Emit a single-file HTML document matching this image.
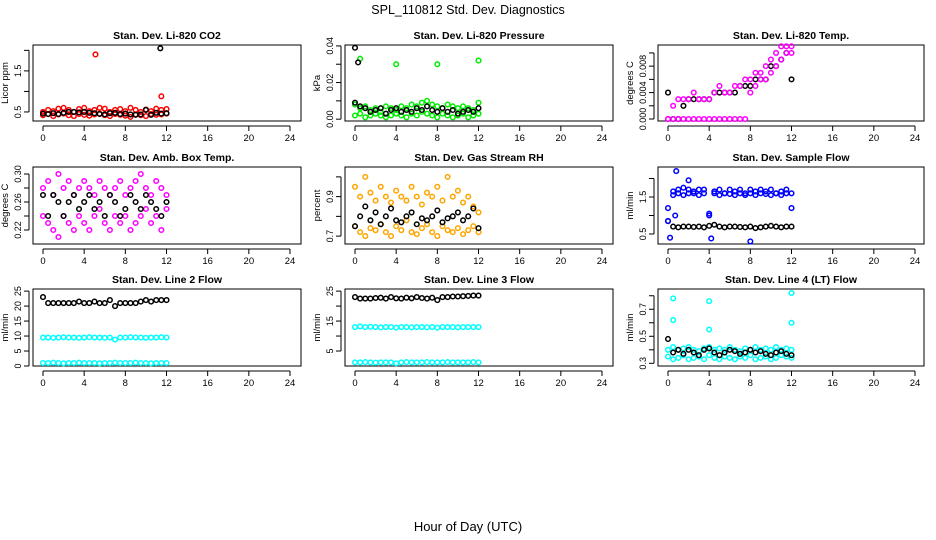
<!DOCTYPE html>
<html><head><meta charset="utf-8">
<style>
body{margin:0;background:#fff;}
svg{display:block;font-family:"Liberation Sans",Arial,sans-serif;}
</style></head>
<body>
<svg id="chart" width="936" height="540" viewBox="0 0 936 540">
<text x="468" y="14" text-anchor="middle" font-size="12.5">SPL_110812  Std. Dev. Diagnostics</text>
<text x="468" y="531" text-anchor="middle" font-size="13">Hour of Day (UTC)</text>
</svg>
<script>
const T = [0,0.5,1,1.5,2,2.5,3,3.5,4,4.5,5,5.5,6,6.5,7,7.5,8,8.5,9,9.5,10,10.5,11,11.5,12];
const xTicks = [0,4,8,12,16,20,24];

const co2Red1 = [0.5,0.55,0.52,0.58,0.6,0.55,0.5,0.57,0.6,0.52,0.55,0.6,0.58,0.5,0.55,0.57,0.52,0.6,0.55,0.5,0.56,0.52,0.58,0.55,0.57];
const co2Red2 = [0.42,0.45,0.4,0.44,0.46,0.42,0.4,0.45,0.43,0.41,0.44,0.46,0.42,0.4,0.45,0.43,0.41,0.38,0.44,0.42,0.4,0.45,0.43,0.44,0.46];
const co2RedOutT = [5.1,11.5];
const co2RedOutV = [1.9,0.88];
const co2Black = [0.46,0.45,0.47,0.45,0.48,0.5,0.5,0.49,0.5,0.48,0.47,0.45,0.44,0.47,0.48,0.45,0.46,0.44,0.43,0.44,0.55,0.43,0.48,0.46,0.47];
const co2BlackOutT = [11.4];
const co2BlackOutV = [2.05];

const presGreen1 = [0.008,0.006,0.007,0.005,0.006,0.004,0.007,0.006,0.005,0.007,0.006,0.008,0.007,0.009,0.01,0.008,0.007,0.006,0.008,0.007,0.006,0.007,0.006,0.005,0.009];
const presGreen2 = [0.002,0.003,0.001,0.002,0.003,0.002,0.001,0.002,0.003,0.002,0.001,0.003,0.002,0.004,0.003,0.002,0.001,0.003,0.002,0.001,0.002,0.003,0.001,0.002,0.003];
const presGreenOutT = [0.5,4,8,12];
const presGreenOutV = [0.033,0.03,0.03,0.032];
const presBlack = [0.009,0.007,0.006,0.004,0.005,0.006,0.003,0.005,0.006,0.004,0.005,0.004,0.006,0.005,0.007,0.005,0.004,0.006,0.004,0.005,0.003,0.004,0.005,0.004,0.006];
const presBlackOutT = [0,0.3];
const presBlackOutV = [0.039,0.031];

const tempMag1 = [0,0.002,0.003,0.003,0.003,0.004,0.003,0.003,0.003,0.004,0.005,0.004,0.004,0.005,0.005,0.006,0.006,0.007,0.007,0.008,0.009,0.01,0.011,0.011,0.011];
const tempMag2 = [0,0,0,0,0,0,0,0,0,0,0,0,0,0,0,0,0.004,0.005,0.006,0.006,0.007,0.008,0.009,0.01,0.01];
const tempBlack = [0.004,0,0,0.002,0.003,0.003,0.003,0.003,0.003,0.004,0.004,0.004,0.004,0.004,0.005,0.005,0.005,0.006,0.006,0.006,0.008,0.008,0.009,0.01,0.006];

const ambMag1 = [0.28,0.29,0.27,0.3,0.28,0.29,0.27,0.28,0.29,0.28,0.27,0.29,0.28,0.27,0.28,0.29,0.27,0.28,0.29,0.3,0.28,0.27,0.29,0.28,0.27];
const ambMag2 = [0.24,0.23,0.22,0.21,0.24,0.23,0.22,0.24,0.23,0.22,0.24,0.25,0.23,0.22,0.24,0.23,0.24,0.22,0.23,0.24,0.25,0.23,0.24,0.22,0.25];
const ambBlack = [0.27,0.24,0.27,0.26,0.24,0.26,0.27,0.25,0.26,0.27,0.25,0.26,0.24,0.27,0.26,0.24,0.25,0.27,0.26,0.25,0.27,0.26,0.25,0.24,0.26];

const rhOrange1 = [0.95,0.9,1.0,0.92,0.88,0.95,0.9,0.87,0.93,0.9,0.88,0.95,0.9,0.86,0.92,0.9,0.95,0.88,1.0,0.9,0.93,0.87,0.9,0.85,0.82];
const rhOrange2 = [0.75,0.72,0.7,0.74,0.73,0.76,0.72,0.7,0.75,0.73,0.78,0.72,0.71,0.74,0.76,0.72,0.7,0.75,0.73,0.72,0.74,0.71,0.73,0.75,0.72];
const rhBlack = [0.75,0.8,0.85,0.78,0.82,0.76,0.8,0.84,0.78,0.77,0.8,0.82,0.76,0.79,0.78,0.8,0.83,0.77,0.79,0.8,0.82,0.78,0.8,0.84,0.74];

const flowBlue1 = [0.85,1.65,1.7,1.75,1.7,1.65,1.7,1.7,1.0,1.65,1.7,1.6,1.7,1.65,1.7,1.6,1.7,1.65,1.7,1.65,1.7,1.6,1.65,1.7,1.2];
const flowBlue2 = [1.2,1.55,1.6,1.55,1.6,1.6,1.55,1.6,1.05,1.6,1.55,1.6,1.58,1.55,1.6,1.55,1.6,1.55,1.6,1.58,1.55,1.6,1.55,1.6,1.6];
const flowBlueOutT = [0.2,0.8,2,4.2,8,0.7];
const flowBlueOutV = [0.4,2.2,1.95,0.38,0.3,1.0];
const flowBlack = [0.85,0.7,0.68,0.7,0.7,0.69,0.7,0.68,0.72,0.75,0.7,0.68,0.7,0.7,0.69,0.68,0.7,0.66,0.68,0.7,0.72,0.7,0.68,0.7,0.7];

const l2Black = [23,21,21,21,21,21,21,21.5,21,21,21.5,21,21,22,20,21,21,21,21,21.5,22,21.5,22,22,22];
const l2Cyan1 = [9.5,9.5,9.4,9.5,9.6,9.5,9.5,9.4,9.5,9.6,9.5,9.5,9.4,9.5,8.8,9.5,9.5,9.6,9.5,9.5,9.4,9.5,9.5,9.6,9.5];
const l2Cyan2 = [1,1,1.1,1,0.9,1,1,1.1,1,1,1,0.9,1,1,1.1,1,1,1,1.1,1,1,0.9,1,1,1];

const l3Black = [23,22.5,22.5,22.5,22.7,22.8,22.5,23,22.6,22.5,22.8,22.6,23,22.7,22.5,22.8,22,23,23,23.2,23.2,23.3,23.4,23.5,23.5];
const l3Cyan1 = [13,13.2,13,13.1,13,12.9,13,13,12.8,13,13,12.9,13,13,12.9,13,12.8,13,13,13,12.9,13,13,13,13];
const l3Cyan2 = [1.2,1.2,1.3,1.2,1.1,1.2,1.2,1.2,0.9,1.2,1.3,1.2,1.2,1.2,1.3,1.2,1.2,1.2,1.3,1.2,1.2,1.2,1.2,1.3,1.2];

const l4Cyan1 = [0.4,0.42,0.4,0.41,0.42,0.4,0.39,0.41,0.42,0.4,0.41,0.4,0.42,0.4,0.39,0.41,0.4,0.42,0.4,0.41,0.4,0.42,0.4,0.41,0.4];
const l4Cyan2 = [0.35,0.33,0.34,0.36,0.33,0.34,0.35,0.33,0.36,0.34,0.33,0.35,0.34,0.33,0.35,0.34,0.36,0.33,0.34,0.35,0.33,0.34,0.36,0.35,0.34];
const l4CyanOutT = [0.5,0.5,4,4,12,12];
const l4CyanOutV = [0.78,0.62,0.76,0.55,0.82,0.6];
const l4Black = [0.48,0.38,0.4,0.37,0.4,0.38,0.36,0.4,0.41,0.38,0.36,0.38,0.4,0.39,0.37,0.38,0.4,0.38,0.39,0.37,0.36,0.38,0.39,0.37,0.36];

const RED='#ff0000',GRN='#00ee00',MAG='#ff00ff',ORG='#ffa500',BLU='#0000ff',CYN='#00ffff',BLK='#000000';

const panels = [
 {name:'co2',title:'Stan. Dev. Li-820 CO2',ylab:'Licor ppm',ylim:[0.28,2.13],ticks:[0.5,1.0,1.5,2.0],labels:['0.5','','1.5',''],
  series:[[RED,T,co2Red1],[RED,T,co2Red2],[RED,co2RedOutT,co2RedOutV],[BLK,T,co2Black],[BLK,co2BlackOutT,co2BlackOutV]]},
 {name:'pressure',title:'Stan. Dev. Li-820 Pressure',ylab:'kPa',ylim:[-0.001,0.0405],ticks:[0,0.01,0.02,0.03,0.04],labels:['0.00','','0.02','','0.04'],
  series:[[GRN,T,presGreen1],[GRN,T,presGreen2],[GRN,presGreenOutT,presGreenOutV],[BLK,T,presBlack],[BLK,presBlackOutT,presBlackOutV]]},
 {name:'temp',title:'Stan. Dev. Li-820 Temp.',ylab:'degrees C',ylim:[-0.0003,0.0112],ticks:[0,0.002,0.004,0.006,0.008,0.01],labels:['0.000','','0.004','','0.008',''],
  series:[[BLK,T,tempBlack],[MAG,T,tempMag1],[MAG,T,tempMag2]]},
 {name:'amb-temp',title:'Stan. Dev. Amb. Box Temp.',ylab:'degrees C',ylim:[0.20,0.31],ticks:[0.22,0.24,0.26,0.28,0.30],labels:['0.22','','0.26','','0.30'],
  series:[[MAG,T,ambMag1],[MAG,T,ambMag2],[BLK,T,ambBlack]]},
 {name:'rh',title:'Stan. Dev. Gas Stream RH',ylab:'percent',ylim:[0.66,1.05],ticks:[0.7,0.8,0.9,1.0],labels:['0.7','','0.9',''],
  series:[[ORG,T,rhOrange1],[ORG,T,rhOrange2],[BLK,T,rhBlack]]},
 {name:'sample-flow',title:'Stan. Dev. Sample Flow',ylab:'ml/min',ylim:[0.23,2.31],ticks:[0.5,1.0,1.5,2.0],labels:['0.5','','1.5',''],
  series:[[BLK,T,flowBlack],[BLU,T,flowBlue1],[BLU,T,flowBlue2],[BLU,flowBlueOutT,flowBlueOutV]]},
 {name:'line2',title:'Stan. Dev. Line 2 Flow',ylab:'ml/min',ylim:[0,25.7],ticks:[0,5,10,15,20,25],labels:['0','5','10','15','20','25'],
  series:[[BLK,T,l2Black],[CYN,T,l2Cyan1],[CYN,T,l2Cyan2]]},
 {name:'line3',title:'Stan. Dev. Line 3 Flow',ylab:'ml/min',ylim:[0,25.7],ticks:[5,10,15,20,25],labels:['5','','15','','25'],
  series:[[BLK,T,l3Black],[CYN,T,l3Cyan1],[CYN,T,l3Cyan2]]},
 {name:'line4',title:'Stan. Dev. Line 4 (LT) Flow',ylab:'ml/min',ylim:[0.28,0.85],ticks:[0.3,0.4,0.5,0.6,0.7,0.8],labels:['0.3','','0.5','','0.7',''],
  series:[[CYN,T,l4Cyan1],[CYN,T,l4Cyan2],[CYN,l4CyanOutT,l4CyanOutV],[BLK,T,l4Black]]}
];

const NS='http://www.w3.org/2000/svg';
const svg=document.getElementById('chart');
function mk(tag,attrs,parent){const e=document.createElementNS(NS,tag);for(const k in attrs)e.setAttribute(k,attrs[k]);(parent||svg).appendChild(e);return e;}

const colBox=[[33,301],[345,613],[658,924]];
const rowBox=[[45,121],[167,244],[289,366]];

panels.forEach((p,i)=>{
  const [bx0,bx1]=colBox[i%3];
  const [by0,by1]=rowBox[Math.floor(i/3)];
  const x0=bx0+10, x24=bx0+257;
  const xs=t=>x0+(x24-x0)*t/24;
  const ys=v=>by1-(v-p.ylim[0])/(p.ylim[1]-p.ylim[0])*(by1-by0);
  const g=mk('g',{});
  
  
  const tt=mk('text',{x:(bx0+bx1)/2,y:by0-6,'text-anchor':'middle','font-size':'10.5','font-weight':'bold'},g);
  tt.textContent=p.title;
  
  
  const box=mk('rect',{x:bx0,y:by0,width:bx1-bx0,height:by1-by0,fill:'none',stroke:'#000','stroke-width':1},g);
  
  
  const xa=mk('g',{},g);
  
  
  mk('line',{x1:xs(0),x2:xs(24),y1:by1+5,y2:by1+5,stroke:'#000'},xa);
  xTicks.forEach(t=>{
    mk('line',{x1:xs(t),x2:xs(t),y1:by1+5,y2:by1+10,stroke:'#000'},xa);
    const l=mk('text',{x:xs(t),y:by1+20,'text-anchor':'middle','font-size':'9.5'},xa);
    l.textContent=t;
    
    
  });
  const ya=mk('g',{},g);
  
  
  const ax=bx0-4;
  mk('line',{x1:ax,x2:ax,y1:ys(p.ticks[0]),y2:ys(p.ticks[p.ticks.length-1]),stroke:'#000'},ya);
  p.ticks.forEach((v,j)=>{
    const y=ys(v);
    mk('line',{x1:ax-5,x2:ax,y1:y,y2:y,stroke:'#000'},ya);
    if(p.labels[j]){
      const l=mk('text',{x:ax-8,y:y,'text-anchor':'middle','font-size':'9',transform:`rotate(-90 ${ax-8} ${y})`},ya);
      l.textContent=p.labels[j];
      
      
    }
  });
  const yl=mk('text',{x:bx0-25,y:(by0+by1)/2,'text-anchor':'middle','font-size':'9.5',transform:`rotate(-90 ${bx0-25} ${(by0+by1)/2})`},g);
  yl.textContent=p.ylab;
  
  
  p.series.forEach(s=>{
    const [col,ts,vs]=s;
    const sg=mk('g',{fill:'none',stroke:col,'stroke-width':1.5},g);
    
    
    vs.forEach((v,k)=>{
      const c=mk('circle',{cx:xs(ts[k]),cy:ys(v),r:2.3},sg);
      
      
    });
  });
});
</script>
</body></html>
